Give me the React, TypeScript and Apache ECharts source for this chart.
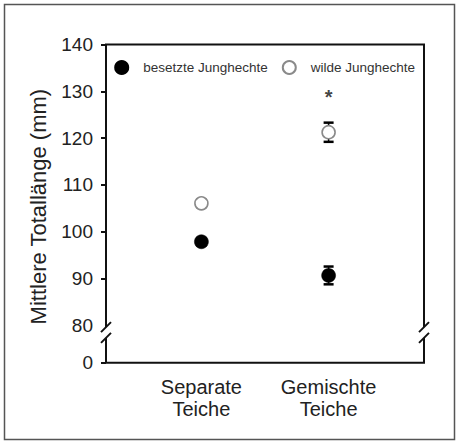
import React, { useEffect, useRef } from "react";
import * as echarts from "echarts";

// ---- data ----
const categories = ["Separate\nTeiche", "Gemischte\nTeiche"];
const categoryX = [3, 7]; // positions of the two pond types on the (hidden) 0..10 x scale
const seriesNames = ["besetzte Junghechte", "wilde Junghechte"];
const besetzte = [97.85, 90.65];
const besetzteErr = [0.8, 1.9];
const wilde = [106.05, 121.25];
const wildeErr = [0.8, 2.05];
const significance = [{ x: 7, y: 128.7, text: "*" }];

// y axis: values 80..140 above the break, "0" drawn at the axis floor below the break
const yTickValues = [72, 80, 90, 100, 110, 120, 130, 140];
const yTickLabels = ["0", "80", "90", "100", "110", "120", "130", "140"];
const yMin = 72;
const yMax = 140;
const breakUpper = 79.6;
const breakLower = 77.3;
const xMin = 0;
const xMax = 10;

const FONT = "'Liberation Sans', Arial, Helvetica, sans-serif";

export default function App() {
  const ref = useRef<HTMLDivElement>(null);

  useEffect(() => {
    if (!ref.current) return;
    const chart = echarts.init(ref.current, undefined, { renderer: "svg" });

    const errData = (vals: number[], errs: number[]) =>
      vals.map((v, i) => [categoryX[i], v, v - errs[i], v + errs[i]]);

    const errorSeries = (name: string, vals: number[], errs: number[]) => ({
      type: "custom",
      name: name + " SE",
      z: 1,
      silent: true,
      encode: { x: 0, y: [1, 2, 3] },
      data: errData(vals, errs),
      renderItem: (_params: any, api: any) => {
        const x = api.value(0);
        const lo = api.coord([x, api.value(2)]);
        const hi = api.coord([x, api.value(3)]);
        const hw = 5;
        return {
          type: "group",
          children: [
            {
              type: "line",
              shape: { x1: lo[0], y1: lo[1], x2: hi[0], y2: hi[1] },
              style: { stroke: "#000", lineWidth: 1.5 },
            },
            {
              type: "line",
              shape: { x1: hi[0] - hw, y1: hi[1], x2: hi[0] + hw, y2: hi[1] },
              style: { stroke: "#000", lineWidth: 2.5 },
            },
            {
              type: "line",
              shape: { x1: lo[0] - hw, y1: lo[1], x2: lo[0] + hw, y2: lo[1] },
              style: { stroke: "#000", lineWidth: 2.5 },
            },
          ],
        };
      },
    });

    chart.setOption({
      animation: false,
      backgroundColor: "#fff",
      textStyle: { fontFamily: FONT },
      grid: {
        left: 106,
        right: 34,
        top: 44.5,
        bottom: 79.3,
        show: true,
        borderColor: "#111",
        borderWidth: 2,
        backgroundColor: "transparent",
      },
      legend: {
        data: seriesNames,
        left: 109.2,
        top: 55,
        itemWidth: 13,
        itemHeight: 13,
        itemGap: 14,
        icon: "circle",
        textStyle: {
          fontFamily: FONT,
          fontSize: 13.5,
          color: "#333",
          padding: [0, 0, 0, 10],
        },
      },
      xAxis: {
        type: "value",
        min: xMin,
        max: xMax,
        axisLine: { show: false },
        axisTick: { show: false },
        splitLine: { show: false },
        axisLabel: {
          customValues: categoryX,
          formatter: (v: number) => {
            const i = categoryX.indexOf(v);
            return i >= 0 ? categories[i] : "";
          },
          fontFamily: FONT,
          fontSize: 20,
          lineHeight: 22,
          color: "#222",
          margin: 13,
        },
      },
      yAxis: {
        type: "value",
        min: yMin,
        max: yMax,
        name: "Mittlere Totallänge (mm)",
        nameLocation: "middle",
        nameGap: 57,
        nameTextStyle: {
          fontFamily: FONT,
          fontSize: 22,
          color: "#222",
          padding: [0, 6, 0, 0],
        },
        axisLine: { show: false },
        splitLine: { show: false },
        axisTick: {
          show: true,
          length: 5,
          customValues: yTickValues.filter((v) => v !== 80),
          lineStyle: { color: "#111", width: 2 },
        },
        axisLabel: {
          customValues: yTickValues,
          formatter: (v: number) => {
            const i = yTickValues.indexOf(v);
            return i >= 0 ? yTickLabels[i] : "";
          },
          fontFamily: FONT,
          fontSize: 19,
          color: "#222",
          margin: 13,
        },
      },
      series: [
        errorSeries(seriesNames[0], besetzte, besetzteErr),
        errorSeries(seriesNames[1], wilde, wildeErr),
        {
          type: "scatter",
          name: seriesNames[0],
          z: 3,
          symbol: "circle",
          symbolSize: 14,
          itemStyle: { color: "#000", borderColor: "#000", borderWidth: 0.5, opacity: 1 },
          data: besetzte.map((v, i) => [categoryX[i], v]),
        },
        {
          type: "scatter",
          name: seriesNames[1],
          z: 3,
          symbol: "circle",
          symbolSize: 13,
          itemStyle: { color: "#fff", borderColor: "#8a8a8a", borderWidth: 1.6, opacity: 1 },
          data: wilde.map((v, i) => [categoryX[i], v]),
        },
        {
          type: "scatter",
          name: "sig",
          z: 4,
          symbolSize: 0,
          silent: true,
          label: {
            show: true,
            position: "inside",
            formatter: (p: any) => significance[p.dataIndex].text,
            fontFamily: FONT,
            fontSize: 20,
            fontWeight: "bold",
            color: "#111",
          },
          data: significance.map((s) => [s.x, s.y]),
        },
      ],
    });

    const px = (x: number, y: number) =>
      chart.convertToPixel({ xAxisIndex: 0, yAxisIndex: 0 }, [x, y]) as number[];
    const [xl, yUp] = px(xMin, breakUpper);
    const [xr] = px(xMax, breakUpper);
    const [, yLo] = px(xMin, breakLower);
    const s = 5;
    const breakEls: any[] = [];
    [xl, xr].forEach((x) => {
      breakEls.push({
        type: "rect",
        z: 100,
        shape: { x: x - 3, y: yUp, width: 6, height: yLo - yUp },
        style: { fill: "#fff" },
      });
      [yUp, yLo].forEach((y) => {
        breakEls.push({
          type: "line",
          z: 101,
          shape: { x1: x - s, y1: y + s, x2: x + s, y2: y - s },
          style: { stroke: "#111", lineWidth: 2 },
        });
      });
    });

    chart.setOption({
      graphic: [
        {
          type: "rect",
          z: 100,
          shape: { x: 4.5, y: 4.5, width: 450, height: 435 },
          style: { fill: "none", stroke: "#555", lineWidth: 1.5 },
        },
        ...breakEls,
      ],
    });

    return () => chart.dispose();
  }, []);

  return (
    <div
      ref={ref}
      style={{ position: "absolute", left: 0, top: 0, width: 458, height: 442 }}
    />
  );
}
